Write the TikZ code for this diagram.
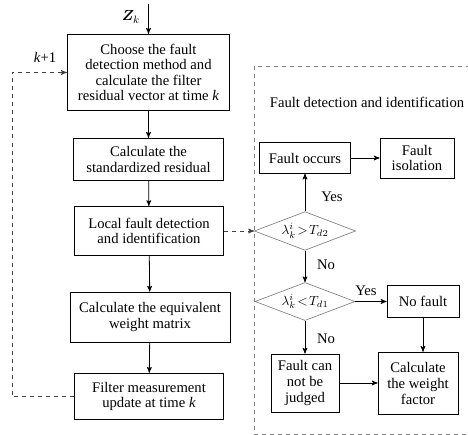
\documentclass[tikz,border=0pt]{standalone}
\usepackage{bm}
\usepackage{fontspec}
\setmainfont{Liberation Serif}
\usetikzlibrary{arrows}
\usetikzlibrary{shapes.geometric}

\begin{document}
\begin{tikzpicture} [x=.75pt,y=-.75pt,
  font=\fontsize{11}{11.7}\selectfont,
  box/.style={draw, line width=.6pt, align=center, inner sep=1, minimum width=#1},
  test/.style={draw=gray, line width=.5pt, diamond, aspect=2.6, inner sep=0, minimum width=76pt, minimum height=29pt, font=\fontsize{10}{12}\selectfont},
  arr/.style={line width=.6pt,->,>=stealth'},
  fb/.style={dashed, line width=.6pt, draw=black!75}]
\useasboundingbox (0,0) rectangle (468,435);
% main loop
\node[box=122pt, minimum height=57.5pt] (b1) at (148.5,72.5) {Choose the fault\\detection method and\\calculate the filter\\residual vector at time \textit{k}};
\node[box=112pt, minimum height=32pt] (b2) at (148.5,159.5) {Calculate the\\standardized residual};
\node[box=112pt, minimum height=37pt] (b3) at (149,231) {Local fault detection\\and identification};
\node[box=120pt, minimum height=37.5pt] (b4) at (150,317) {Calculate the equivalent\\weight matrix};
\node[box=112pt, minimum height=35pt] (b5) at (149,396.5) {Filter measurement\\update at time \textit{k}};
\coordinate (zin) at (148.5,4);
\node (zlab) at (131,17) {$\bm{Z}_k$};
\node (klab) at (45,57) {\textit{k}+1};
\draw[arr] (zin) -- (b1);
\foreach \a/\b in {b1/b2,b2/b3,b3/b4,b4/b5} {
 \draw[arr] (\a) -- (\b);
}
\draw[fb, ->, >=stealth'] (b5.west) -- ++(-62,0) |- (b1.west);
% detection block
\draw[dashed, draw=gray, line width=.5pt] (470,66) -- (254,66) -- (254,434) -- (470,434);
\node (title) at (367,102) {Fault detection and identification};
\node[box=68pt, minimum height=23pt] (occ) at (305,158) {Fault occurs};
\node[box=55.5pt, minimum height=30pt] (iso) at (417,158) {Fault\\isolation};
\node[test] (d1) at (305,231) {$\lambda_k^i\!>\!T_{d2}$};
\node[test, minimum width=75pt, minimum height=28.5pt] (d2) at (305,301.5) {$\lambda_k^i\!<\!T_{d1}$};
\node[box=54pt, minimum height=24pt] (nof) at (423,301.5) {No fault};
\node[box=51pt, minimum height=43.5pt] (jud) at (305,383) {Fault can\\not be\\judged};
\node[box=60pt, minimum height=47pt] (wgt) at (418,383.5) {Calculate\\the weight\\factor};
\draw[fb, ->, >=stealth'] (b3.east) -- (d1.west);
\draw[arr] (d1) -- (occ);
\draw[arr] (occ) -- (iso);
\draw[arr] (d1) -- (d2);
\draw[arr] (d2) -- (nof);
\draw[arr] (d2) -- (jud);
\draw[arr] (nof.south) -- (nof.south |- wgt.north);
\draw[arr] (jud.east) -- (jud.east -| wgt.west);
\node (y1) at (332,197) {Yes};
\node (n1) at (326,265) {No};
\node (y2) at (366,291) {Yes};
\node (n2) at (326,339) {No};
\end{tikzpicture}
\end{document}
